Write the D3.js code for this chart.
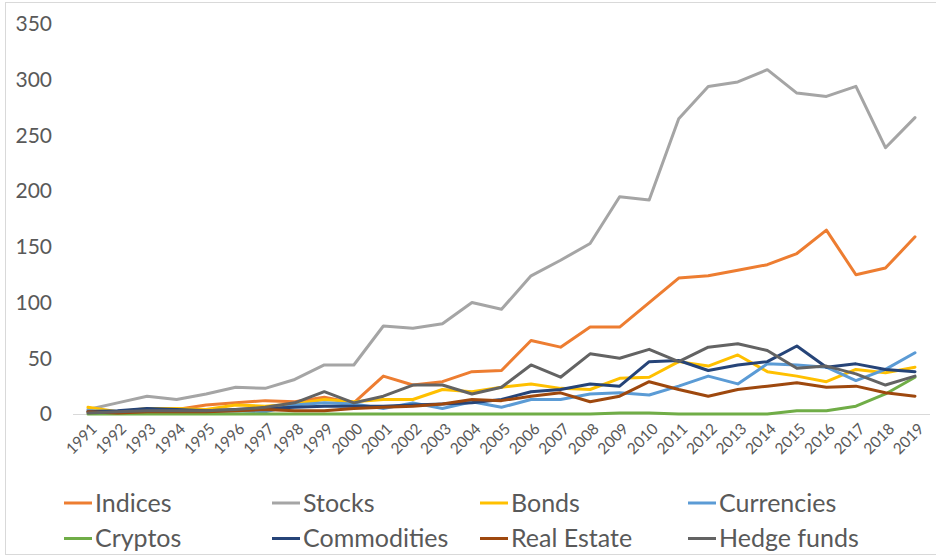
<!DOCTYPE html>
<meta charset="utf-8">
<style>
  body { margin: 0; background: #fff; }
  text { font-family: Lato, "Open Sans", sans-serif; fill: #595959; }
  .series { fill: none; stroke-width: 3px; stroke-linejoin: round; stroke-linecap: round; }
</style>
<body>
<script src="https://d3js.org/d3.v7.min.js"></script>
<script>

var years = ["1991","1992","1993","1994","1995","1996","1997","1998","1999","2000",
             "2001","2002","2003","2004","2005","2006","2007","2008","2009","2010",
             "2011","2012","2013","2014","2015","2016","2017","2018","2019"];

var indices     = [2,1,3,4,8,10,12,11,15,10,34,26,29,38,39,66,60,78,78,100,122,124,129,134,144,165,125,131,159];
var stocks      = [4,10,16,13,18,24,23,31,44,44,79,77,81,100,94,124,138,153,195,192,265,294,298,309,288,285,294,239,266];
var bonds       = [6,2,5,5,4,8,7,9,13,11,13,13,22,20,24,27,23,22,32,33,47,43,53,38,34,29,40,37,42];
var currencies  = [3,2,3,3,2,3,2,8,10,9,5,10,5,11,6,13,13,18,19,17,25,34,27,45,44,42,30,40,55];
var cryptos     = [0,0,0,0,0,0,0,0,0,0,0,0,0,0,0,0,0,0,1,1,0,0,0,0,3,3,7,18,33];
var commodities = [2,3,5,4,3,4,5,6,7,7,7,8,9,10,13,20,22,27,25,47,48,39,44,47,61,42,45,40,38];
var realEstate  = [2,1,2,2,2,3,4,3,3,5,6,7,9,13,12,16,19,11,16,29,22,16,22,25,28,24,25,19,16];
var hedgeFunds  = [1,2,3,3,3,4,6,10,20,10,16,26,26,18,24,44,33,54,50,58,47,60,63,57,41,43,36,26,34];

var yTicks = [0,50,100,150,200,250,300,350];

var series = [
  {name: "Indices",     values: indices,     color: "#ED7D31"},
  {name: "Stocks",      values: stocks,      color: "#A5A5A5"},
  {name: "Bonds",       values: bonds,       color: "#FFC000"},
  {name: "Currencies",  values: currencies,  color: "#5B9BD5"},
  {name: "Cryptos",     values: cryptos,     color: "#70AD47"},
  {name: "Commodities", values: commodities, color: "#264478"},
  {name: "Real Estate", values: realEstate,  color: "#9E480E"},
  {name: "Hedge funds", values: hedgeFunds,  color: "#636363"}
];

var width = 936,
    height = 557;

var svg = d3.select("body").append("svg")
    .attr("width", width)
    .attr("height", height);

// chart frame
svg.append("rect")
    .attr("x", 5.5).attr("y", 2.5)
    .attr("width", 940).attr("height", 552)
    .attr("fill", "none")
    .attr("stroke", "#D9D9D9");

var x = d3.scalePoint()
    .domain(years)
    .range([88, 915]);

var y = d3.scaleLinear()
    .domain([0, 350])
    .range([414, 24]);

// y labels
var yAxis = svg.append("g")
    .attr("transform", "translate(52,0)")
    .call(d3.axisLeft(y).tickValues(yTicks).tickSize(0).tickPadding(0));
yAxis.select(".domain").remove();
yAxis.selectAll("text")
    .style("font-size", "21px")
    .attr("fill", "#595959");

// baseline
svg.append("line")
    .attr("x1", 73).attr("x2", 930)
    .attr("y1", y(0) + 0.5).attr("y2", y(0) + 0.5)
    .attr("stroke", "#D9D9D9");

// x labels
svg.append("g").selectAll("text")
    .data(years)
    .enter().append("text")
      .attr("transform", function(d) { return "translate(" + (x(d) + 6) + ",426)rotate(-45)"; })
      .attr("text-anchor", "end")
      .attr("dy", "0.35em")
      .style("font-size", "15.5px")
      .text(function(d) { return d; });

var line = d3.line()
    .x(function(d, i) { return x(years[i]); })
    .y(function(d) { return y(d); });

svg.append("g").selectAll("path")
    .data(series)
    .enter().append("path")
      .attr("class", "series")
      .attr("stroke", function(d) { return d.color; })
      .attr("d", function(d) { return line(d.values); });

// legend, 2 rows x 4 columns
var legend = svg.append("g").selectAll("g")
    .data(series)
    .enter().append("g")
      .attr("transform", function(d, i) {
        return "translate(" + (64 + (i % 4) * 208) + "," + (503 + Math.floor(i / 4) * 35.5) + ")";
      });

legend.append("line")
    .attr("x1", 0).attr("x2", 28)
    .attr("stroke", function(d) { return d.color; })
    .attr("stroke-width", 3);

legend.append("text")
    .attr("x", 31)
    .attr("dy", "0.35em")
    .style("font-size", "25px")
    .text(function(d) { return d.name; });

</script>
</body>
</html>
